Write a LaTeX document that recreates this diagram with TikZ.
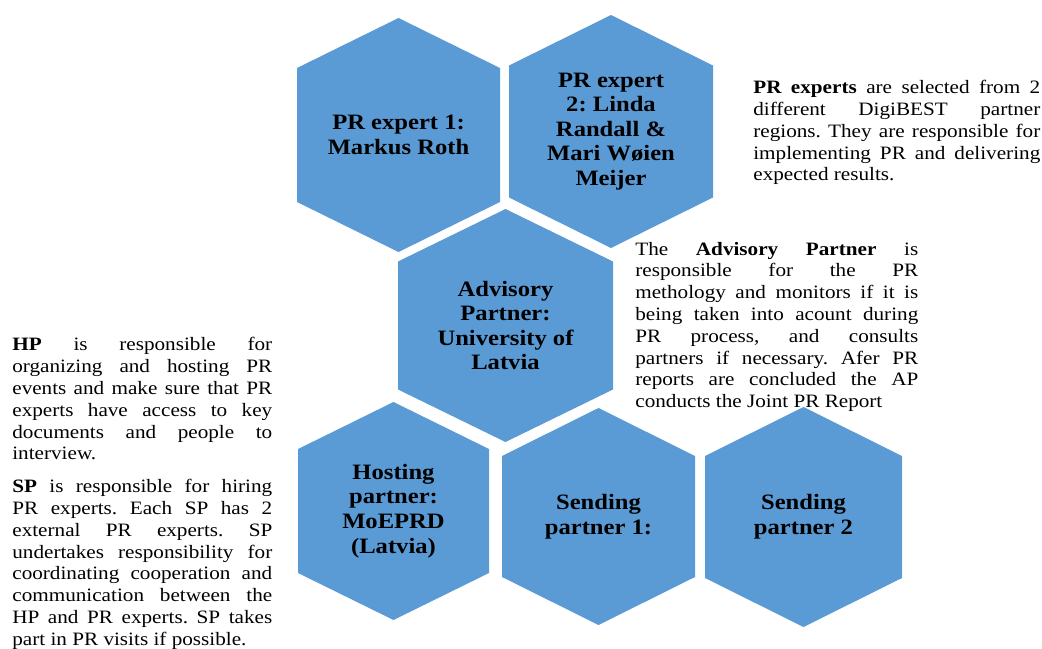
\documentclass[tikz,border=0pt]{standalone}
\usepackage{fontspec}
\setmainfont{Liberation Serif}
\newfontfamily\notefont[FakeStretch=1.12]{Liberation Serif}
\usepackage{xcolor}
\usepackage{tikz}

\definecolor{hexblue}{HTML}{5B9BD5}

% hexagon: name, cx, cy, half width, half height, half side, text
\newcommand{\hexcell}[7]{%
  \fill[hexblue] (#2,#3-#5) -- (#2+#4,#3-#6) -- (#2+#4,#3+#6) -- (#2,#3+#5)
    -- (#2-#4,#3+#6) -- (#2-#4,#3-#6) -- cycle;
  \node[hexlabel] (#1) at (#2,#3) {#7};}

\begin{document}
\frenchspacing
\tolerance=10000
\hbadness=10000
\begin{tikzpicture}[x=0.02cm, y=-0.02cm,
  hexlabel/.style={align=center, inner sep=0pt, text=black,
    font=\notefont\bfseries\fontsize{12.5}{14}\selectfont},
  note/.style={anchor=north west, inner sep=0pt, align=justify,
    font=\notefont\fontsize{10.76}{12.41}\selectfont}]
\useasboundingbox (0,0) rectangle (1042,649);

% draw the notes
\node[note, text width=5.2cm] (hpnote) at (12,335.3) {\strut\textbf{HP} is responsible for\linebreak
  organizing and hosting PR\linebreak events and make sure that PR\linebreak
  experts have access to key\linebreak documents and people to\linebreak interview.};
\node[note, text width=5.2cm] (spnote) at (12,477) {\strut\textbf{SP} is responsible for hiring\linebreak
  PR experts. Each SP has 2\linebreak external PR experts. SP\linebreak
  undertakes responsibility for\linebreak coordinating cooperation and\linebreak
  communication between the\linebreak HP and PR experts. SP takes\linebreak
  part in PR visits if possible.};
\node[note, text width=5.74cm] (prnote) at (753,78) {\strut\textbf{PR experts} are selected from 2\linebreak
  different DigiBEST partner\linebreak regions. They are responsible for\linebreak
  implementing PR and delivering\linebreak expected results.};
\node[note, text width=5.66cm] (apnote) at (635,239.5) {\strut The \textbf{Advisory Partner} is\linebreak
  responsible for the PR\linebreak methology and monitors if it is\linebreak
  being taken into acount during\linebreak PR process, and consults\linebreak
  partners if necessary. Afer PR\linebreak reports are concluded the AP\linebreak
  conducts the Joint PR Report};

% draw the hexagons
\hexcell{prone}{398.5}{135}{101.5}{117}{67}{PR expert 1:\\Markus Roth}
\hexcell{prtwo}{611}{131.5}{102}{116.5}{66}{PR expert\\2: Linda\\Randall \&\\Mari Wøien\\Meijer}
\hexcell{advisory}{505.5}{325.5}{107.5}{116.5}{64}{Advisory\\Partner:\\University of\\Latvia}
\hexcell{hosting}{393.5}{511}{95.5}{109}{62}{Hosting\\partner:\\MoEPRD\\(Latvia)}
\hexcell{sendone}{598.5}{516.5}{96.5}{108.5}{60.5}{Sending\\partner 1:}
\hexcell{sendtwo}{803.5}{517}{98.5}{110}{61}{Sending\\partner 2}

\end{tikzpicture}
\end{document}
